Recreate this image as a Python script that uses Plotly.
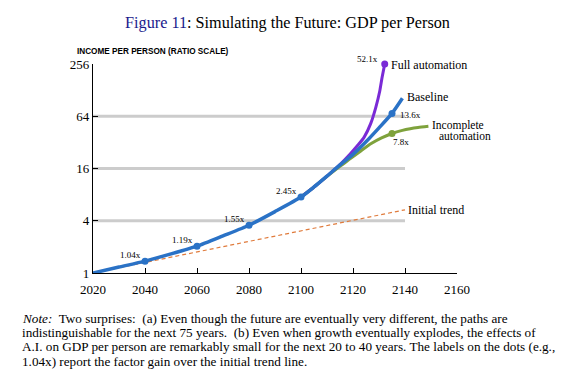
import math
import plotly.graph_objects as go

# ---------------- data ----------------
years_base = [2020, 2030, 2040, 2050, 2060, 2070, 2080, 2090, 2100, 2105, 2110, 2115, 2120, 2125, 2130, 2135, 2139]
base_vals = [1.0, 1.17, 1.37, 1.66, 2.04, 2.68, 3.55, 5.1, 7.5, 9.8, 13.1, 17.6, 23.3, 32.5, 47.0, 69.0, 103.0]

years_full = [2100, 2105, 2110, 2115, 2119, 2122, 2124.3, 2126.8, 2128.8, 2130.3, 2131.2, 2132.2]
full_vals = [7.5, 9.8, 13.1, 17.8, 23.7, 30.0, 36.8, 52.6, 81.6, 125.0, 180.0, 256.0]

years_inc = [2100, 2105, 2110, 2115, 2119, 2123, 2127, 2131, 2135, 2139, 2142, 2145, 2149]
inc_vals = [7.5, 9.8, 13.0, 17.0, 20.8, 25.5, 31.0, 36.0, 40.5, 44.0, 46.0, 47.5, 49.0]

years_trend = [2020, 2140]
trend_vals = [1.0, 5.35]

dot_years = [2040, 2060, 2080, 2100, 2135]
dot_vals = [1.37, 2.04, 3.55, 7.5, 69.0]
dot_labels = ["1.04x", "1.19x", "1.55x", "2.45x", "13.6x"]

full_dot_year, full_dot_val, full_dot_label = 2132.2, 256.0, "52.1x"
inc_dot_year, inc_dot_val, inc_dot_label = 2135, 40.5, "7.8x"

grid_vals = [4, 16, 64]
y_ticks = [1, 4, 16, 64, 256]
x_ticks = [2020, 2040, 2060, 2080, 2100, 2120, 2140, 2160]

note_lines = [
    "<i>Note:</i>  Two surprises:  (a) Even though the future are eventually very different, the paths are",
    "indistinguishable for the next 75 years.  (b) Even when growth eventually explodes, the effects of",
    "A.I. on GDP per person are remarkably small for the next 20 to 40 years. The labels on the dots (e.g.,",
    "1.04x) report the factor gain over the initial trend line.",
]

BLUE = "#2a72c6"
PURPLE = "#7a2ad6"
GREEN = "#7ea23c"
ORANGE = "#e07b3c"
SERIF = "Liberation Serif"
SANS = "Liberation Sans"

L = math.log10

fig = go.Figure()

fig.add_trace(go.Scatter(x=years_trend, y=trend_vals, mode="lines",
                         line=dict(color=ORANGE, width=1.2, dash="4px,3px"), hoverinfo="skip"))
fig.add_trace(go.Scatter(x=years_inc, y=inc_vals, mode="lines",
                         line=dict(color=GREEN, width=3, shape="spline", smoothing=0.6), hoverinfo="skip"))
fig.add_trace(go.Scatter(x=years_full, y=full_vals, mode="lines", cliponaxis=False,
                         line=dict(color=PURPLE, width=3, shape="spline", smoothing=0.4), hoverinfo="skip"))
fig.add_trace(go.Scatter(x=years_base, y=base_vals, mode="lines",
                         line=dict(color=BLUE, width=3.5, shape="spline", smoothing=0.6), hoverinfo="skip"))
fig.add_trace(go.Scatter(x=dot_years, y=dot_vals, mode="markers",
                         marker=dict(color=BLUE, size=7), hoverinfo="skip"))
fig.add_trace(go.Scatter(x=[full_dot_year], y=[full_dot_val], mode="markers",
                         marker=dict(color=PURPLE, size=7), hoverinfo="skip", cliponaxis=False))
fig.add_trace(go.Scatter(x=[inc_dot_year], y=[inc_dot_val], mode="markers",
                         marker=dict(color=GREEN, size=7), hoverinfo="skip"))

# gridlines (light gray, thick) up to 2140 -- shapes take raw data values
for g in grid_vals:
    fig.add_shape(type="line", xref="x", yref="y", x0=2020, x1=2140, y0=g, y1=g,
                  line=dict(color="#cccccc", width=3), layer="below")

anns = []
small = dict(family=SERIF, size=9, color="black")
for i, (yr, v, lab) in enumerate(zip(dot_years, dot_vals, dot_labels)):
    if i < 4:
        anns.append(dict(x=yr, y=L(v), xref="x", yref="y", text=lab, showarrow=False,
                         xanchor="right", yanchor="middle", xshift=-2, yshift=6, font=small))
    else:
        anns.append(dict(x=yr, y=L(v), xref="x", yref="y", text=lab, showarrow=False,
                         xanchor="left", yanchor="middle", xshift=6, yshift=-2, font=small))
full_y = L(full_dot_val) - 0.001
anns.append(dict(x=full_dot_year, y=full_y, xref="x", yref="y", text=full_dot_label,
                 showarrow=False, xanchor="right", yanchor="middle", xshift=-5, yshift=5, font=small))
anns.append(dict(x=inc_dot_year, y=L(inc_dot_val), xref="x", yref="y", text=inc_dot_label,
                 showarrow=False, xanchor="left", yanchor="middle", xshift=-1, yshift=-8, font=small))

lab = dict(family=SERIF, size=12, color="black")
lab2 = dict(family=SERIF, size=11.5, color="black")
anns.append(dict(x=full_dot_year, y=full_y, xref="x", yref="y", text="Full automation",
                 showarrow=False, xanchor="left", yanchor="middle", xshift=4, yshift=-1, font=lab))
anns.append(dict(x=years_base[-1], y=L(base_vals[-1]), xref="x", yref="y", text="Baseline",
                 showarrow=False, xanchor="left", yanchor="middle", xshift=3, yshift=1, font=lab))
anns.append(dict(x=years_inc[-1], y=L(inc_vals[-1]), xref="x", yref="y",
                 text="Incomplete", showarrow=False, xanchor="left", yanchor="middle",
                 xshift=2, yshift=1, font=lab2))
anns.append(dict(x=years_inc[-1], y=L(inc_vals[-1]), xref="x", yref="y",
                 text="automation", showarrow=False, xanchor="left", yanchor="middle",
                 xshift=9, yshift=-10, font=lab2))
anns.append(dict(x=years_trend[-1], y=L(trend_vals[-1]), xref="x", yref="y", text="Initial trend",
                 showarrow=False, xanchor="left", yanchor="middle", xshift=1, yshift=0, font=lab))

# pixel -> paper helpers
W, H = 575, 384
pl, pr, pt, pb = 93, 118, 64, 111
pw, ph = W - pl - pr, H - pt - pb
def px_to_paper(xp, yp):
    return (xp - pl) / pw, (H - pb - yp) / ph

ax_, ay_ = px_to_paper(75, 52)
anns.append(dict(x=ax_, y=ay_, xref="paper", yref="paper", text="<b>INCOME PER PERSON (RATIO SCALE)</b>",
                 showarrow=False, xanchor="left", yanchor="middle",
                 font=dict(family=SANS, size=8.2, color="black")))

for i, line in enumerate(note_lines):
    nx, ny = px_to_paper(20, 318.3 + 14.25 * i)
    anns.append(dict(x=nx, y=ny, xref="paper", yref="paper", text=line, showarrow=False,
                     xanchor="left", yanchor="middle", align="left",
                     font=dict(family=SERIF, size=13.2, color="black")))

fig.update_layout(
    width=W, height=H,
    margin=dict(l=pl, r=pr, t=pt, b=pb, autoexpand=False),
    paper_bgcolor="white", plot_bgcolor="white",
    showlegend=False,
    title=dict(text="<span style='color:#1a1a8c'>Figure 11</span>: Simulating the Future: GDP per Person",
               x=0.5, xanchor="center", y=1 - 22 / H, yanchor="middle",
               font=dict(family=SERIF, size=16.2, color="black")),
    xaxis=dict(range=[2020, 2160], tickvals=x_ticks, showgrid=False, zeroline=False,
               showline=True, linecolor="black", linewidth=1.2, ticks="inside", ticklen=5,
               tickcolor="black", tickwidth=1, tickfont=dict(family=SERIF, size=13, color="black"),
               ticklabelstandoff=4, fixedrange=True, automargin=False),
    yaxis=dict(type="log", range=[0, L(256)], tickvals=y_ticks, ticktext=[str(v) for v in y_ticks],
               showgrid=False, zeroline=False, showline=True, linecolor="black", linewidth=1.2,
               ticks="inside", ticklen=5, tickcolor="black", tickwidth=1,
               tickfont=dict(family=SERIF, size=13, color="black"), fixedrange=True, automargin=False),
    annotations=anns,
)

fig.write_html("out.html", config={"displayModeBar": False},
               post_script="document.body.style.margin='0px';")
